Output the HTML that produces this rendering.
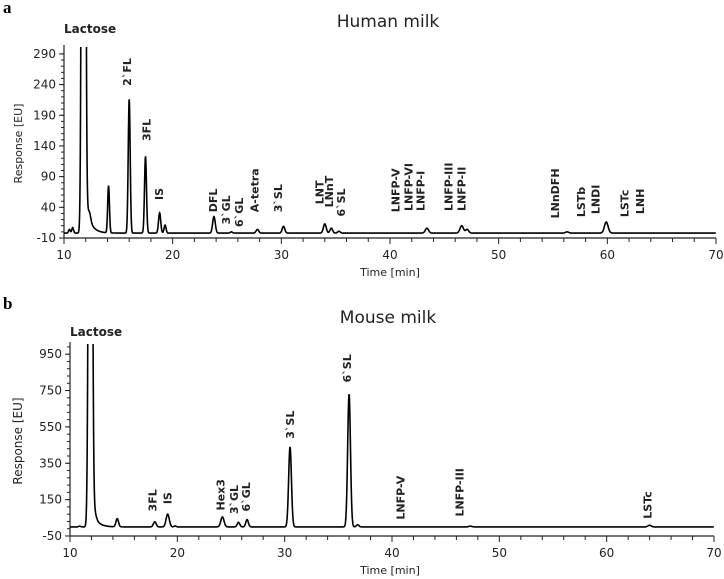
<!DOCTYPE html>
<html><head><meta charset="utf-8"><style>
body{margin:0;background:#fff;width:724px;height:579px;overflow:hidden}
svg{display:block}
text{font-family:"DejaVu Sans","Liberation Sans",sans-serif;fill:#222}
.t{font-size:12px}
.pk{font-size:11px;font-weight:bold}
</style></head><body>
<svg id="s" width="724" height="579" viewBox="0 0 724 579"></svg>
<script>
// ---- Panel a data (Human milk) ----
const humanPeakTimes = [10.5,10.8,11.8,12.35,14.1,16.0,17.5,18.8,19.3,23.8,25.4,27.8,30.2,34.0,34.6,35.3,43.4,46.6,47.1,56.3,59.9];
const humanPeakHeights = [6,9,3000,12,77,218,125,33,13,27,2,6,11,15,8,3,8,12,6,2,18];
const humanPeakWidths = [0.08,0.08,0.12,0.12,0.08,0.09,0.09,0.1,0.09,0.12,0.1,0.12,0.12,0.13,0.12,0.12,0.15,0.16,0.14,0.15,0.17];
const humanBaseline = -2;
const humanTail = 60;
const humanTailStart = 11.9;
const humanYTicks = [-10,40,90,140,190,240,290];
const humanLabels = ["2`FL","3FL","IS","DFL","3`GL","6`GL","A-tetra","3`SL","LNT","LNnT","6`SL","LNFP-V","LNFP-VI","LNFP-I","LNFP-III","LNFP-II","LNnDFH","LSTb","LNDI","LSTc","LNH"];
const humanLabelTimes = [15.8,17.6,18.75,23.7,24.9,26.1,27.55,29.7,33.5,34.4,35.5,40.5,41.7,42.8,45.4,46.6,55.2,57.6,58.9,61.6,63.0];
const humanLabelBase = [238,148,52,32,12,8,32,32,45,40,25,32,34,34,34,34,22,24,29,24,29];
// ---- Panel b data (Mouse milk) ----
const mousePeakTimes = [10.9,11.9,12.3,14.4,17.9,19.1,19.8,24.2,25.7,26.5,30.5,36.0,36.8,47.3,64.0];
const mousePeakHeights = [4,6000,30,45,28,70,5,55,25,40,440,730,12,4,9];
const mousePeakWidths = [0.1,0.13,0.15,0.12,0.13,0.15,0.1,0.15,0.12,0.12,0.13,0.13,0.12,0.15,0.15];
const mouseBaseline = 0;
const mouseTail = 120;
const mouseTailStart = 11.95;
const xTicks = [10,20,30,40,50,60,70];
const mouseYTicks = [-50,150,350,550,750,950];
const mouseLabels = ["3FL","IS","Hex3","3`GL","6`GL","3`SL","6`SL","LNFP-V","LNFP-III","LSTc"];
const mouseLabelTimes = [17.7,19.1,24.0,25.3,26.4,30.5,35.8,40.8,46.3,63.8];
const mouseLabelBase = [85,125,90,70,85,485,795,40,57,45];

const svg = document.getElementById('s');
const NS = 'http://www.w3.org/2000/svg';
function mk(tag, attrs, parent){const e=document.createElementNS(NS,tag);for(const k in attrs)e.setAttribute(k,attrs[k]);(parent||svg).appendChild(e);return e;}

function panel(p){
  const g = mk('g',{});
  
  
  const xs = t => p.x0 + (t-10)*(p.x1-p.x0)/60;
  const ysc = v => p.yb - (v-p.ymin)*(p.yb-p.yt)/(p.ymax-p.ymin);
  let t = mk('text',{x:3,y:p.letterY,style:'font-family:"Liberation Serif",serif;font-weight:bold;font-size:17px;fill:#000'},g); t.textContent=p.letter;
  
  
  t = mk('text',{x:388,y:p.titleY,'text-anchor':'middle',style:'font-size:17px'},g); t.textContent=p.title;
  
  
  t = mk('text',{x:p.x0,y:p.lacY,class:'pk',style:'font-size:12px'},g); t.textContent='Lactose';
  
  
  const ax = mk('path',{d:`M${p.x0} ${p.yt-4}V${p.yb}H${p.x1}`,stroke:'#222','stroke-width':1.2,fill:'none'},g);
  
  
  for(const v of p.yticks){
    const y=ysc(v);
    mk('line',{x1:p.x0-5,x2:p.x0,y1:y,y2:y,stroke:'#222'},g);
    const tt=mk('text',{x:p.x0-8,y:y+4,'text-anchor':'end',class:'t'},g); tt.textContent=v;
    
    
  }
  const ystep=(p.yticks[1]-p.yticks[0])/5;
  for(let v=p.yticks[0]; v<=p.ymax; v+=ystep){const y=ysc(v);mk('line',{x1:p.x0-3,x2:p.x0,y1:y,y2:y,stroke:'#222'},g);}
  for(let m=10;m<=70;m+=2){const x=xs(m);mk('line',{x1:x,x2:x,y1:p.yb,y2:p.yb+(m%10==0?6:4),stroke:'#222'},g);}
  for(const v of xTicks){
    const tt=mk('text',{x:xs(v),y:p.yb+21,'text-anchor':'middle',class:'t'},g); tt.textContent=v;
    
    
  }
  t = mk('text',{x:390,y:p.yb+38,'text-anchor':'middle',style:'font-size:11px'},g); t.textContent='Time [min]';
  
  
  const yc=(p.yt+p.yb)/2;
  t = mk('text',{x:p.ylabX,y:yc,'text-anchor':'middle',transform:`rotate(-90 ${p.ylabX} ${yc})`,style:`font-size:${p.ylabSize}px`},g); t.textContent='Response [EU]';
  
  
  const cid='clip'+p.id;
  const cp=mk('clipPath',{id:cid},g); mk('rect',{x:p.x0,y:p.yt-2,width:p.x1-p.x0,height:p.yb-p.yt+2},cp);
  let d='';
  for(let tm=10; tm<=70; tm+=0.02){
    let v=p.base;
    for(let i=0;i<p.times.length;i++){const z=(tm-p.times[i])/p.widths[i];if(Math.abs(z)<6)v+=p.heights[i]*Math.exp(-0.5*z*z);}
    const s=p.tailStart;
    if(tm>s) v+=p.tail*(1-Math.exp(-(tm-s)/0.05))*Math.exp(-(tm-s)/0.45);
    d+=(d?'L':'M')+xs(tm).toFixed(2)+' '+ysc(v).toFixed(2);
  }
  const tr=mk('path',{d,stroke:'#000','stroke-width':1.6,fill:'none','clip-path':`url(#${cid})`},g);
  
  
  for(let i=0;i<p.labels.length;i++){
    const x=xs(p.labelTimes[i])+4, y=ysc(p.labelBase[i]);
    const lt=mk('text',{x,y,transform:`rotate(-90 ${x} ${y})`,class:'pk'},g); lt.textContent=p.labels[i];
    
    
  }
}
panel({id:'human',letter:'a',letterY:13,title:'Human milk',titleY:27,lacY:33,x0:64,x1:716,yb:238,yt:49,ymin:-10,ymax:298,
  yticks:humanYTicks,times:humanPeakTimes,heights:humanPeakHeights,widths:humanPeakWidths,base:humanBaseline,tail:humanTail,tailStart:humanTailStart,
  labels:humanLabels,labelTimes:humanLabelTimes,labelBase:humanLabelBase,ylabX:22,ylabSize:11});
panel({id:'mouse',letter:'b',letterY:309,title:'Mouse milk',titleY:323,lacY:336,x0:70,x1:714,yb:536,yt:346,ymin:-50,ymax:995,
  yticks:mouseYTicks,times:mousePeakTimes,heights:mousePeakHeights,widths:mousePeakWidths,base:mouseBaseline,tail:mouseTail,tailStart:mouseTailStart,
  labels:mouseLabels,labelTimes:mouseLabelTimes,labelBase:mouseLabelBase,ylabX:22,ylabSize:12});
</script>
</body></html>
